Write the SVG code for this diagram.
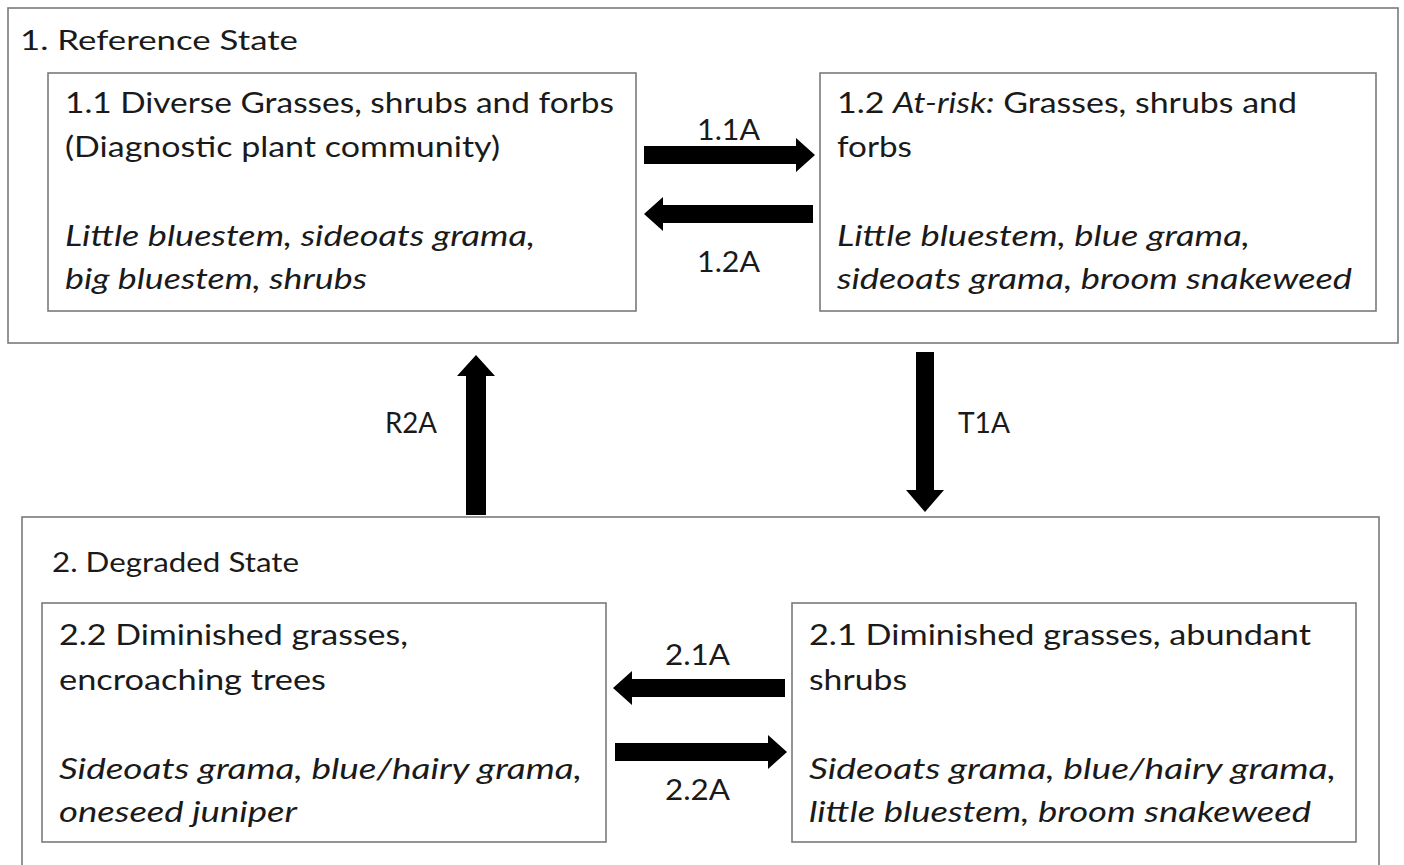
<svg xmlns="http://www.w3.org/2000/svg" width="1404" height="865" viewBox="0 0 1404 865">
<style>
.box{fill:#fff;stroke:#7a7a7a;stroke-width:1.6}
.t{font-family:Lato,"Open Sans","Liberation Sans",sans-serif;font-size:29px;fill:#1a1a1a}
.i{font-style:italic}
.h{font-size:27px}
.lab{font-family:Lato,"Open Sans","Liberation Sans",sans-serif;font-size:28px;fill:#1a1a1a}
.arr{fill:#000}
</style>
<rect width="1404" height="865" fill="#fff"/>
<g id="state1">
<rect class="box" x="8" y="8" width="1390" height="335"/>
<text class="t h" x="20" y="50" textLength="278" lengthAdjust="spacingAndGlyphs">1. Reference State</text>
</g>
<g id="state2">
<rect class="box" x="22" y="517" width="1357" height="360"/>
<text class="t h" x="52" y="572" textLength="247" lengthAdjust="spacingAndGlyphs">2. Degraded State</text>
</g>
<g id="n11">
<rect class="box" x="48" y="73" width="588" height="238"/>
<text class="t" x="65" y="113" textLength="549" lengthAdjust="spacingAndGlyphs">1.1 Diverse Grasses, shrubs and forbs</text>
<text class="t" x="65" y="157" textLength="435" lengthAdjust="spacingAndGlyphs">(Diagnostic plant community)</text>
<text class="t i" x="65" y="246" textLength="470" lengthAdjust="spacingAndGlyphs">Little bluestem, sideoats grama,</text>
<text class="t i" x="65" y="289" textLength="302" lengthAdjust="spacingAndGlyphs">big bluestem, shrubs</text>
</g>
<g id="n12">
<rect class="box" x="820" y="73" width="556" height="238"/>
<text class="t" x="837" y="113" textLength="460" lengthAdjust="spacingAndGlyphs">1.2 <tspan class="i">At-risk:</tspan> Grasses, shrubs and</text>
<text class="t" x="837" y="157" textLength="75" lengthAdjust="spacingAndGlyphs">forbs</text>
<text class="t i" x="837" y="246" textLength="413" lengthAdjust="spacingAndGlyphs">Little bluestem, blue grama,</text>
<text class="t i" x="837" y="289" textLength="515" lengthAdjust="spacingAndGlyphs">sideoats grama, broom snakeweed</text>
</g>
<g id="n22">
<rect class="box" x="42" y="603" width="564" height="239"/>
<text class="t" x="59" y="645" textLength="349" lengthAdjust="spacingAndGlyphs">2.2 Diminished grasses,</text>
<text class="t" x="59" y="690" textLength="267" lengthAdjust="spacingAndGlyphs">encroaching trees</text>
<text class="t i" x="59" y="779" textLength="523" lengthAdjust="spacingAndGlyphs">Sideoats grama, blue/hairy grama,</text>
<text class="t i" x="59" y="822" textLength="238" lengthAdjust="spacingAndGlyphs">oneseed juniper</text>
</g>
<g id="n21">
<rect class="box" x="792" y="603" width="564" height="239"/>
<text class="t" x="809" y="645" textLength="502" lengthAdjust="spacingAndGlyphs">2.1 Diminished grasses, abundant</text>
<text class="t" x="809" y="690" textLength="98" lengthAdjust="spacingAndGlyphs">shrubs</text>
<text class="t i" x="809" y="779" textLength="527" lengthAdjust="spacingAndGlyphs">Sideoats grama, blue/hairy grama,</text>
<text class="t i" x="809" y="822" textLength="502" lengthAdjust="spacingAndGlyphs">little bluestem, broom snakeweed</text>
</g>
<g id="connectors">
<polygon class="arr" points="644,146 796,146 796,138 815,155 796,172 796,164 644,164"/>
<polygon class="arr" points="813,205 663,205 663,197 644,214 663,231 663,223 813,223"/>
<polygon class="arr" points="785,679 632,679 632,671 613,688 632,705 632,697 785,697"/>
<polygon class="arr" points="615,743 768,743 768,735 787,752 768,769 768,761 615,761"/>
<polygon class="arr" points="466,515 466,376 457,376 476,355 495,376 486,376 486,515"/>
<polygon class="arr" points="916,352 916,490 906,490 925,512 944,490 934,490 934,352"/>
<text class="lab" x="697" y="140" textLength="63" lengthAdjust="spacingAndGlyphs">1.1A</text>
<text class="lab" x="697" y="272" textLength="63" lengthAdjust="spacingAndGlyphs">1.2A</text>
<text class="lab" x="665" y="665" textLength="65" lengthAdjust="spacingAndGlyphs">2.1A</text>
<text class="lab" x="665" y="800" textLength="65" lengthAdjust="spacingAndGlyphs">2.2A</text>
<text class="lab" x="385" y="433" textLength="52" lengthAdjust="spacingAndGlyphs">R2A</text>
<text class="lab" x="958" y="433" textLength="52" lengthAdjust="spacingAndGlyphs">T1A</text>
</g>
</svg>
